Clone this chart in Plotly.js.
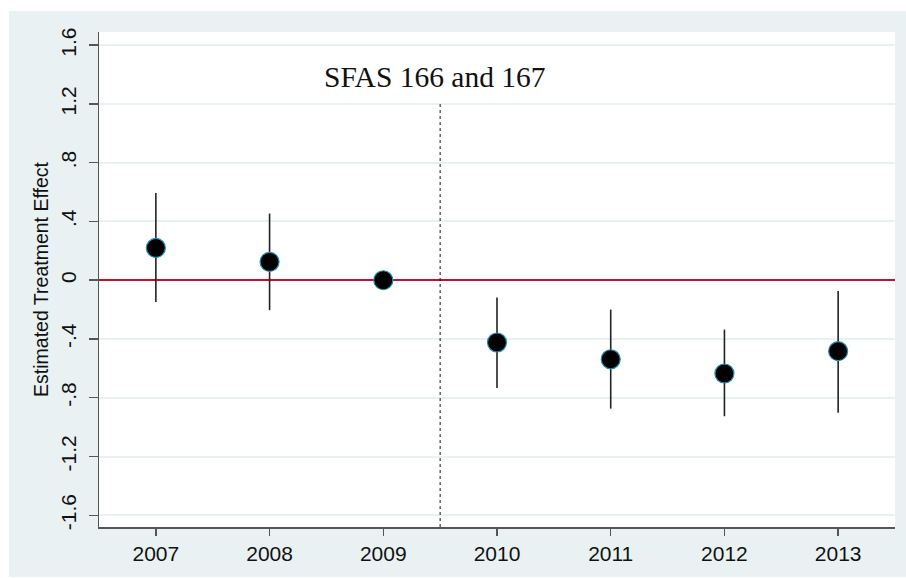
<!DOCTYPE html>
<html>
<head>
<meta charset="utf-8">
<script src="https://cdn.plot.ly/plotly-3.0.1.min.js"></script>
<style>
  html, body { margin: 0; padding: 0; background: #ffffff; }
  #chart { position: absolute; left: 9px; top: 11px; width: 897px; height: 566px; }
</style>
</head>
<body>
<div id="chart"></div>
<script>
// ---- data ----
const years = [2007, 2008, 2009, 2010, 2011, 2012, 2013];
const estimate = [0.22, 0.125, 0, -0.424, -0.538, -0.635, -0.483];
const ciHigh = [0.594, 0.454, 0, -0.118, -0.2, -0.336, -0.073];
const ciLow = [-0.148, -0.204, 0, -0.733, -0.874, -0.926, -0.903];
const yTickVals = [-1.6, -1.2, -0.8, -0.4, 0, 0.4, 0.8, 1.2, 1.6];
const yTickText = ['-1.6', '-1.2', '-.8', '-.4', '0', '.4', '.8', '1.2', '1.6'];
const eventYear = 2009.5;
const eventLabel = 'SFAS 166 and 167';
const yTitle = 'Estimated Treatment Effect';

const errPlus = estimate.map((v, i) => ciHigh[i] - v);
const errMinus = estimate.map((v, i) => v - ciLow[i]);

const yRange = [-1.68, 1.69];

const trace = {
  type: 'scatter',
  mode: 'markers',
  x: years,
  y: estimate,
  marker: { symbol: 'circle', size: 19, color: '#000000', line: { color: '#1f8fb8', width: 1.2 } },
  error_y: { type: 'data', symmetric: false, array: errPlus, arrayminus: errMinus,
             color: '#222222', thickness: 1.6, width: 0 },
  hoverinfo: 'x+y',
  showlegend: false
};

const layout = {
  width: 897, height: 566,
  margin: { l: 90, r: 11, t: 21, b: 50, pad: 0 },
  paper_bgcolor: '#EAF1F3',
  plot_bgcolor: '#ffffff',
  font: { family: 'Liberation Sans, Arial, sans-serif', color: '#111111' },
  xaxis: {
    range: [2006.5, 2013.5],
    tickvals: years,
    ticktext: years.map(String),
    showgrid: false, zeroline: false,
    showline: true, linecolor: '#555555', linewidth: 1.5,
    ticks: 'outside', ticklen: 7, tickwidth: 1.5, tickcolor: '#555555',
    tickfont: { size: 21, color: '#111111' }
  },
  yaxis: {
    range: yRange,
    tickvals: yTickVals,
    ticktext: yTickText,
    tickangle: -90,
    showgrid: true, gridcolor: '#EAF1F3', gridwidth: 2,
    zeroline: true, zerolinecolor: '#C8102E', zerolinewidth: 2,
    showline: true, linecolor: '#555555', linewidth: 1.5,
    ticks: 'outside', ticklen: 9, tickwidth: 1.5, tickcolor: '#555555',
    tickfont: { size: 21, color: '#111111' },
    ticklabelstandoff: 4,
    title: { text: yTitle, font: { size: 19.5, color: '#111111' }, standoff: 3 }
  },
  shapes: [
    { type: 'line', xref: 'x', yref: 'y', x0: eventYear, x1: eventYear, y0: yRange[0], y1: 1.2,
      line: { color: '#111111', width: 1, dash: 'dot' }, layer: 'above' }
  ],
  annotations: [
    { x: eventYear, y: 1.385, xref: 'x', yref: 'y', xshift: -5, text: eventLabel,
      showarrow: false, xanchor: 'center', yanchor: 'middle',
      font: { family: 'Liberation Serif, Times New Roman, serif', size: 29.5, color: '#111111' } }
  ]
};

Plotly.newPlot('chart', [trace], layout, { displayModeBar: false, staticPlot: true });
</script>
</body>
</html>
